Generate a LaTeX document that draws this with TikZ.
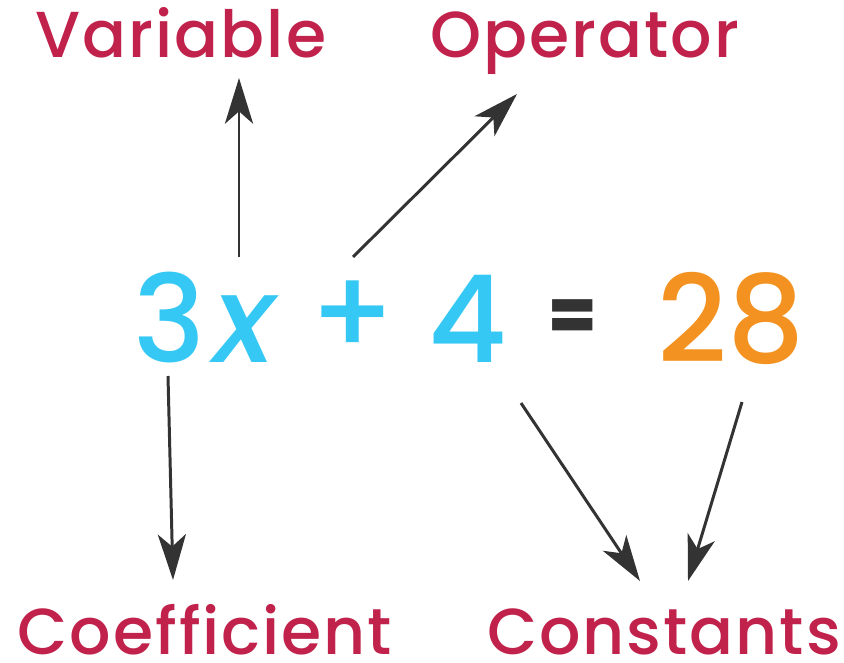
\documentclass[tikz,border=0pt]{standalone}
\usepackage{fontspec}
\setmainfont{Poppins}[UprightFont=* Medium, ItalicFont=* Medium Italic]
\usepackage{tikz}
\usetikzlibrary{arrows.meta,calc}
\usepackage{xcolor}

\definecolor{labelred}{RGB}{192,34,75}
\definecolor{eqblue}{RGB}{54,200,244}
\definecolor{eqorange}{RGB}{243,146,32}
\definecolor{arrowgray}{RGB}{51,51,51}

\begin{document}
\begin{tikzpicture}[x=0.02cm, y=-0.02cm, >={Stealth[length=26pt,width=16pt,inset=7pt]},
    lab/.style={anchor=base, inner sep=0pt, text depth=0pt, text=labelred, font=\fontsize{37}{40}\selectfont\addfontfeatures{LetterSpace=3}},
    eqch/.style={anchor=base, inner sep=0pt, font=\fontsize{69}{72}\selectfont},
    arr/.style={->, line width=1.7pt, draw=arrowgray}]
    \useasboundingbox (0,0) rectangle (844,662);
    % labels
    \node[lab] (var) at (181,58) {Variable};
    \node[lab] (op) at (585,58) {Operator};
    \node[lab] (coef) at (205,654) {Coefficient};
    \node[lab] (const) at (664,654) {Constants};
    % the equation
    \node[eqch, text=eqblue] (three) at (170,362) {3};
    \node[eqch, text=eqblue] (xv) at (245,362) {\itshape x};
    \node[eqch, text=eqblue, anchor=center] (plus) at (353,318) {+};
    \node[eqch, text=eqblue] (four) at (468,362) {4};
    \node[eqch, text=arrowgray, anchor=center, font=\fontsize{40}{42}\selectfont\bfseries] (eqs) at (573,320) {=};
    \node[eqch, text=eqorange] (num) at (731,362) {28};
    % arrows
    \draw[arr] ([shift={(-6,-105)}]xv.base) -- ([shift={(58,20)}]var.base);
    \draw[arr] ([shift={(0,-61)}]plus.center) -- ([shift={(-68,36)}]op.base);
    \draw[arr] ([shift={(-2,14)}]three.base) -- ([shift={(-32,-74)}]coef.base);
    \draw[arr] ([shift={(53,41)}]four.base) -- ([shift={(-24,-73)}]const.base);
    \draw[arr] ([shift={(11,40)}]num.base) -- ([shift={(24,-73)}]const.base);
\end{tikzpicture}
\end{document}
